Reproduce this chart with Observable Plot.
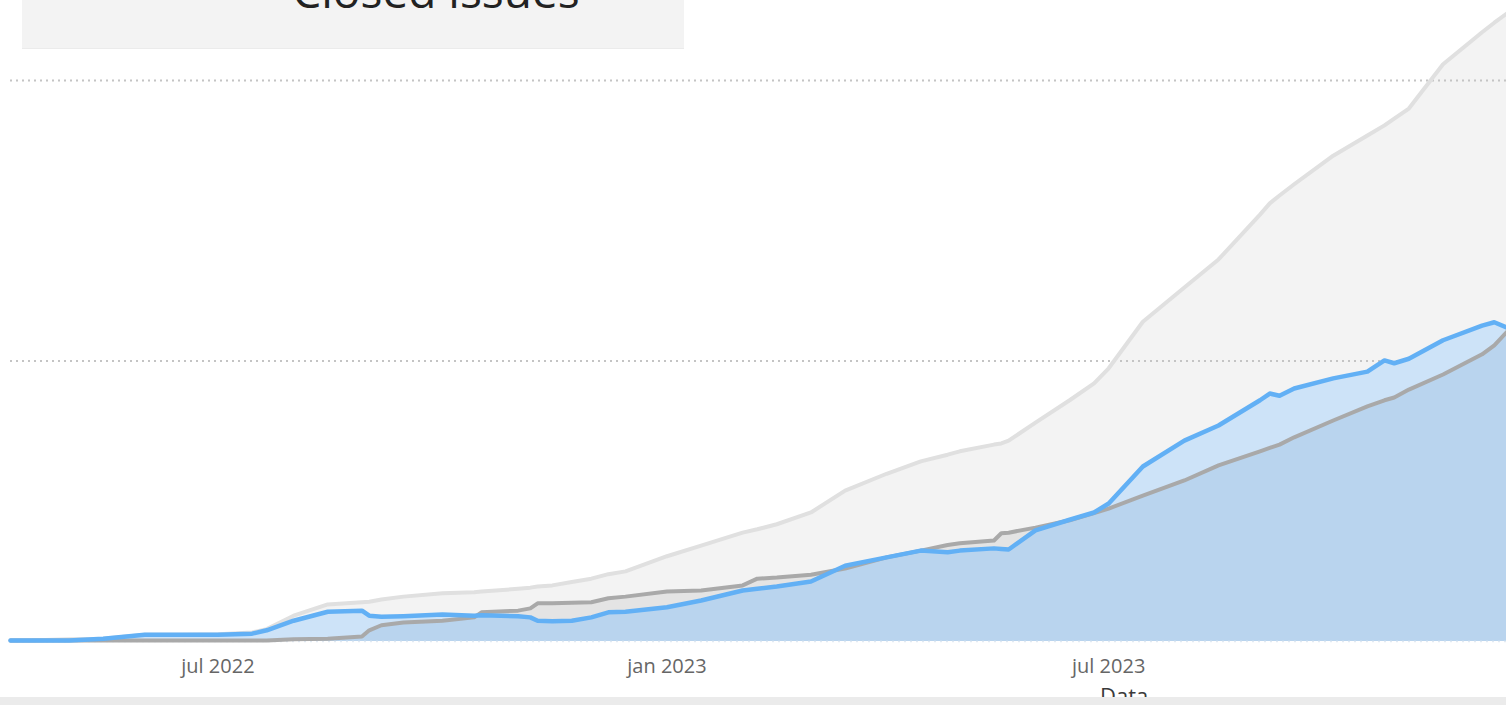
<!DOCTYPE html>
<html>
<head>
<meta charset="utf-8">
<script src="https://cdn.jsdelivr.net/npm/d3@7"></script>
<script src="https://cdn.jsdelivr.net/npm/@observablehq/plot@0.6"></script>
<style>
  html, body { margin: 0; padding: 0; background: #ffffff; }
  #wrap { position: relative; width: 1506px; height: 705px; overflow: hidden; font-family: "Open Sans", sans-serif; }
  #chart { position: absolute; left: 0; top: 0; }
  #titlebox { position: absolute; left: 22px; top: 0; width: 662px; height: 48px; background: #f3f3f3; border-bottom: 1px solid #ebebeb; }
  #xlabel { position: absolute; left: 1100px; top: 684px; font-size: 22px; color: #3a3a3a; line-height: 1; }
  #band { position: absolute; left: 0; top: 697px; width: 1506px; height: 8px; background: #ebebeb; }
</style>
</head>
<body>
<div id="wrap">
  <div id="chart"></div>
  <div id="titlebox">
    <svg width="662" height="48"><text x="414" y="8" text-anchor="middle" font-family="Open Sans, sans-serif" font-size="46" fill="#222">Closed issues</text></svg>
  </div>
  <div id="xlabel">Data</div>
  <div id="band"></div>
</div>
<script>
// Shared dates (x)
const dates = [
  "2022-04-07","2022-04-15","2022-05-01","2022-05-15","2022-06-01","2022-06-15",
  "2022-07-01","2022-07-15","2022-07-21","2022-08-01","2022-08-15","2022-08-29",
  "2022-09-01","2022-09-06","2022-09-15","2022-10-01","2022-10-14","2022-10-17",
  "2022-11-01","2022-11-06","2022-11-09","2022-11-15","2022-11-23","2022-12-01",
  "2022-12-08","2022-12-15","2023-01-01","2023-01-15","2023-02-01","2023-02-07",
  "2023-02-15","2023-03-01","2023-03-15","2023-04-01","2023-04-15","2023-04-26",
  "2023-05-01","2023-05-15","2023-05-18","2023-05-21","2023-06-01","2023-06-15",
  "2023-06-25","2023-07-01","2023-07-15","2023-08-01","2023-08-15","2023-09-01",
  "2023-09-05","2023-09-09","2023-09-15","2023-10-01","2023-10-15","2023-10-22",
  "2023-10-26","2023-11-01","2023-11-15","2023-12-01","2023-12-06","2023-12-11"
];
// Light grey series (outer envelope)
const totalIssues = [
  2,2,4,5,12,12,
  13,16,22,46,66,70,
  71,75,80,86,88,89,
  94,96,98,100,106,112,
  120,125,152,171,194,200,
  209,230,269,299,321,333,
  339,351,353,358,390,430,
  460,487,570,631,681,761,
  781,795,815,866,902,920,
  932,950,1029,1086,1103,1119
];
// Blue series
const closedIssues = [
  2,2,2,5,12,12,
  12,14,20,37,53,55,
  46,44,45,48,46,47,
  45,43,37,36,37,43,
  52,53,61,73,91,94,
  98,107,135,150,162,159,
  162,166,165,164,198,217,
  230,246,312,358,385,430,
  442,438,451,469,481,501,
  496,504,537,563,569,560
];
// Grey series
const targetIssues = [
  2,2,2,2,2,2,
  2,2,2,4,5,9,
  20,29,34,37,43,52,
  55,59,68,68,69,70,
  77,80,89,91,100,112,
  114,119,130,150,162,172,
  175,180,193,194,203,216,
  229,237,260,287,314,339,
  345,351,364,394,419,430,
  435,449,476,512,528,551
];
const tickDates = ["2022-07-01","2023-01-01","2023-07-01"];
const tickLabels = ["jul 2022","jan 2023","jul 2023"];
const gridValues = [0, 500, 1000];

const data = dates.map((d, i) => ({
  date: new Date(d),
  total: totalIssues[i],
  closed: closedIssues[i],
  target: targetIssues[i],
  both: Math.min(closedIssues[i], targetIssues[i])
}));
const ticks = tickDates.map(d => new Date(d));
const labelOf = new Map(ticks.map((t, i) => [+t, tickLabels[i]]));

const chart = Plot.plot({
  width: 1506,
  height: 705,
  marginLeft: 10,
  marginRight: 0,
  marginTop: 0,
  marginBottom: 64,
  style: { fontFamily: "Open Sans, sans-serif", background: "transparent" },
  x: { type: "utc", domain: [new Date("2022-04-07"), new Date("2023-12-11")] },
  y: { domain: [0, 1142.6], axis: null },
  marks: [
    Plot.areaY(data, { x: "date", y: "total", fill: "#f3f3f3" }),
    Plot.ruleY(gridValues.slice(1), { stroke: "#c4c4c4", strokeWidth: 2, strokeDasharray: "2,4" }),
    Plot.areaY(data, { x: "date", y: "target", fill: "#e4e4e4" }),
    Plot.areaY(data, { x: "date", y: "closed", fill: "#cde3f8" }),
    Plot.areaY(data, { x: "date", y: "both", fill: "#b9d4ee" }),
    Plot.ruleY(gridValues.slice(0, 1), { stroke: "#e2eaf3", strokeWidth: 1.5, strokeDasharray: "2,4" }),
    Plot.lineY(data, { x: "date", y: "total", stroke: "#e0e0e0", strokeWidth: 4 }),
    Plot.lineY(data, { x: "date", y: "target", stroke: "#a9a9a9", strokeWidth: 4 }),
    Plot.lineY(data, { x: "date", y: "closed", stroke: "#62b0f5", strokeWidth: 4.5 }),
    Plot.axisX({
      ticks: ticks,
      tickFormat: d => labelOf.get(+d),
      tickSize: 0,
      tickPadding: 17,
      fontSize: 20,
      fill: "#666",
      label: null
    })
  ]
});
document.getElementById("chart").appendChild(chart);
</script>
</body>
</html>
